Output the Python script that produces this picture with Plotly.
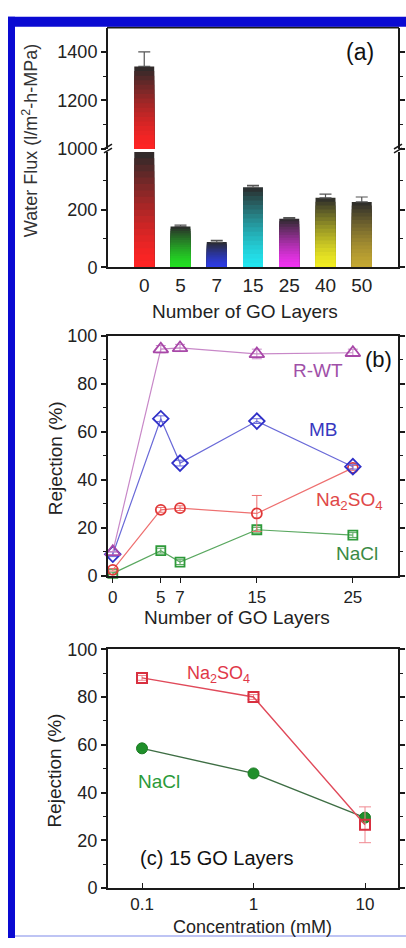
import plotly.graph_objects as go

W, H = 406, 948

# ---------------- data ----------------
# Panel (a): water flux vs number of GO layers
layers_a = ["0", "5", "7", "15", "25", "40", "50"]
flux = [1340, 142, 88, 278, 169, 241, 227]
flux_err = [60, 5, 6, 6, 4, 13, 17]
bar_colors = ["#ff2424", "#22e022", "#2c3ce6", "#22e6f0", "#f032f0", "#f2ee22", "#c4a832"]
lower_range = [0, 400]
upper_range = [1000, 1500]

# Panel (b): rejection vs number of GO layers
layers_b = [0, 5, 7, 15, 25]
rwt = [10, 94.5, 95, 92.5, 93]
rwt_err = [0, 1.5, 1.5, 2, 1.5]
mb = [9, 65.5, 47, 64.5, 45.5]
mb_err = [1, 1.2, 1.2, 1, 1]
na2so4_b = [2.5, 27.5, 28.2, 26, 45]
na2so4_b_err = [0.5, 1, 1, 7.5, 1]
nacl_b = [1, 10.5, 5.7, 19.2, 17]
nacl_b_err = [0.5, 1, 1, 1, 1]

# Panel (c): rejection vs concentration (15 GO layers)
conc = [0.1, 1, 10]
na2so4_c = [88, 80, 26.5]
na2so4_c_err = [1, 1, 7.5]
nacl_c = [58.5, 48, 29.5]

# ---------------- helpers ----------------
def px(x):
    return x / W

def py(y):
    return 1 - y / H

def mix(c1, c2, f):
    a = [int(c1[i:i + 2], 16) for i in (1, 3, 5)]
    b = [int(c2[i:i + 2], 16) for i in (1, 3, 5)]
    return "rgb(%d,%d,%d)" % tuple(round(a[k] * (1 - f) + b[k] * f) for k in range(3))

FONT = "Liberation Sans, Arial, sans-serif"
AX = "#1a1a1a"
DARK = "#2a2a2a"
NS = 18

fig = go.Figure()

# ---- panel (a) bars with vertical gradient (dark top) ----
# nested overlapping bars, tallest first, so no seams appear between gradient steps
shown_lower = [min(v, lower_range[1]) for v in flux]
for k in range(NS - 1, -1, -1):
    f = ((k + 0.5) / NS) ** 1.4
    cols = [mix(c, DARK, f) for c in bar_colors]
    fig.add_trace(go.Bar(
        x=layers_a, y=[h * (k + 1) / NS for h in shown_lower],
        marker=dict(color=cols, line=dict(width=0)), width=0.55,
        xaxis="x", yaxis="y", showlegend=False, hoverinfo="skip"))
up_x = [c for c, v in zip(layers_a, flux) if v > upper_range[0]]
up_h = [v - upper_range[0] for v in flux if v > upper_range[0]]
up_c = [c for c, v in zip(bar_colors, flux) if v > upper_range[0]]
for k in range(NS - 1, -1, -1):
    f = ((k + 0.5) / NS) ** 1.4
    fig.add_trace(go.Bar(
        x=up_x, y=[h * (k + 1) / NS for h in up_h], base=[upper_range[0]] * len(up_h),
        marker=dict(color=[mix(c, DARK, f) for c in up_c], line=dict(width=0)), width=0.55,
        xaxis="x", yaxis="y2", showlegend=False, hoverinfo="skip"))
for ya in ("y", "y2"):
    fig.add_trace(go.Scatter(
        x=layers_a, y=flux, mode="markers", marker=dict(size=1, color="rgba(0,0,0,0)"),
        error_y=dict(type="data", array=flux_err, arrayminus=[0] * len(flux), color="#555",
                     thickness=1.2, width=6),
        xaxis="x", yaxis=ya, showlegend=False, hoverinfo="skip"))

# ---- panel (b) ----
def series_b(y, err, color, lcolor, symbol, size):
    fig.add_trace(go.Scatter(
        x=layers_b, y=y, mode="lines+markers",
        line=dict(color=lcolor, width=1.2),
        marker=dict(symbol=symbol, size=size, color=color, line=dict(width=1.8, color=color)),
        error_y=dict(type="data", array=err, color=lcolor, thickness=1, width=5),
        xaxis="x3", yaxis="y3", showlegend=False, cliponaxis=False))

series_b(nacl_b, nacl_b_err, "#2e9a3a", "#5aa860", "square-open", 9)
series_b(na2so4_b, na2so4_b_err, "#e03838", "#ee7070", "circle-open", 10)
series_b(mb, mb_err, "#3030c8", "#6a6ad8", "diamond-open", 12)
series_b(rwt, rwt_err, "#a848a8", "#c888c8", "triangle-up-open", 13)

# ---- panel (c) ----
fig.add_trace(go.Scatter(
    x=conc, y=nacl_c, mode="lines+markers",
    line=dict(color="#3e6e44", width=1.4),
    marker=dict(symbol="circle", size=11, color="#1f8f2a", line=dict(width=1, color="#1a7a22")),
    xaxis="x4", yaxis="y4", showlegend=False, cliponaxis=False))
fig.add_trace(go.Scatter(
    x=conc, y=na2so4_c, mode="lines+markers",
    line=dict(color="#e04a5a", width=1.4),
    marker=dict(symbol="square-open", size=10, color="#d83040", line=dict(width=2, color="#d83040")),
    error_y=dict(type="data", array=na2so4_c_err, color="#f08890", thickness=1, width=6),
    xaxis="x4", yaxis="y4", showlegend=False, cliponaxis=False))

# ---------------- axes ----------------
def xax(domain_y_anchor, **kw):
    d = dict(domain=[px(108), px(398)], anchor=domain_y_anchor, showline=True, linewidth=2,
             linecolor=AX, showgrid=False, zeroline=False,
             tickfont=dict(family=FONT, size=18, color="#222"), tickcolor=AX)
    d.update(kw)
    return d

def yax(domain, **kw):
    d = dict(domain=domain, showline=True, linewidth=2, linecolor=AX, showgrid=False,
             zeroline=False, ticks="outside", ticklen=5, tickwidth=1.5, tickcolor=AX,
             tickfont=dict(family=FONT, size=18, color="#222"), mirror="ticks")
    d.update(kw)
    return d

minor = lambda vals: dict(tickvals=vals, ticks="outside", ticklen=3, tickwidth=1.2, tickcolor=AX)

layout = dict(
    width=W, height=H, margin=dict(l=0, r=0, t=0, b=0),
    paper_bgcolor="white", plot_bgcolor="white", barmode="overlay",
    xaxis=xax("y", type="category", range=[-1, 7], ticks="", tickfont=dict(family=FONT, size=19, color="#222")),
    yaxis=yax([py(263), py(145)], anchor="x", range=lower_range, tickvals=[0, 200],
              minor=minor([100, 300])),
    yaxis2=yax([py(142), py(18)], anchor="x", range=upper_range, tickvals=[1000, 1200, 1400],
               minor=minor([1100, 1300])),
    xaxis3=xax("y3", range=[-0.5, 29.7], tickvals=layers_b, ticks="outside", ticklen=5,
               tickfont=dict(family=FONT, size=17, color="#222"), mirror=True),
    yaxis3=yax([py(578), py(333)], anchor="x3", range=[0, 100], tickvals=[0, 20, 40, 60, 80, 100],
               minor=minor([10, 30, 50, 70, 90])),
    xaxis4=xax("y4", type="log", range=[-1.305, 1.296], tickvals=conc, ticktext=["0.1", "1", "10"],
               ticks="inside", ticklen=5, tickfont=dict(family=FONT, size=17, color="#222"),
               mirror=True),
    yaxis4=yax([py(897), py(653)], anchor="x4", range=[0, 100], tickvals=[0, 20, 40, 60, 80, 100],
               minor=minor([10, 30, 50, 70, 90])),
)
fig.update_layout(**layout)

# ---------------- annotations ----------------
def ann(text, x, y, size, color="#111", angle=0):
    fig.add_annotation(text=text, x=px(x), y=py(y), xref="paper", yref="paper",
                       showarrow=False, textangle=angle, xanchor="center", yanchor="middle",
                       font=dict(family=FONT, size=size, color=color))

ann("Water Flux (l/m<sup>2</sup>-h-MPa)", 30, 134, 18, "#333", -90)
ann("Number of GO Layers", 245, 308, 19, "#222")
ann("(a)", 360, 43, 23, "#111")

ann("Rejection (%)", 55, 458, 19, "#222", -90)
ann("Number of GO Layers", 237, 621, 19, "#222")
ann("(b)", 378, 357, 22, "#111")
ann("R-WT", 318, 368, 19, "#a050a8")
ann("MB", 323, 429, 19, "#3838c0")
ann("Na<sub>2</sub>SO<sub>4</sub>", 349, 502, 19, "#e04848")
ann("NaCl", 357, 555, 19, "#3a8a44")

ann("Rejection (%)", 55, 777, 19, "#222", -90)
ann("Concentration (mM)", 253, 937, 18, "#222")
ann("Na<sub>2</sub>SO<sub>4</sub>", 218, 679, 18, "#e03848")
ann("NaCl", 159, 788, 19, "#2a9a38")
ann("(c) 15 GO Layers", 216, 866, 20, "#111")

# ---------------- decorations ----------------
shapes = []
# top frame line of panel (a)
shapes.append(dict(type="line", xref="paper", yref="paper", x0=px(107), x1=px(399), y0=py(18), y1=py(18),
                   line=dict(color=AX, width=2)))
# axis break marks
for xb in (108, 398):
    for dy in (0, 4):
        shapes.append(dict(type="line", xref="paper", yref="paper",
                           x0=px(xb - 4), x1=px(xb + 4), y0=py(146 - dy), y1=py(141 - dy),
                           line=dict(color=AX, width=1.5)))
# blue frame
shapes.append(dict(type="rect", xref="paper", yref="paper", x0=px(8), x1=px(406), y0=py(17), y1=py(7),
                   fillcolor="#0a0ad2", line=dict(width=0), layer="above"))
shapes.append(dict(type="rect", xref="paper", yref="paper", x0=px(8), x1=px(15), y0=py(948), y1=py(7),
                   fillcolor="#0a0ad2", line=dict(width=0), layer="above"))
shapes.append(dict(type="line", xref="paper", yref="paper", x0=px(15), x1=px(406), y0=py(946), y1=py(946),
                   line=dict(color="#a8b0f0", width=1.5)))
fig.update_layout(shapes=shapes)

fig.write_html("out.html")
